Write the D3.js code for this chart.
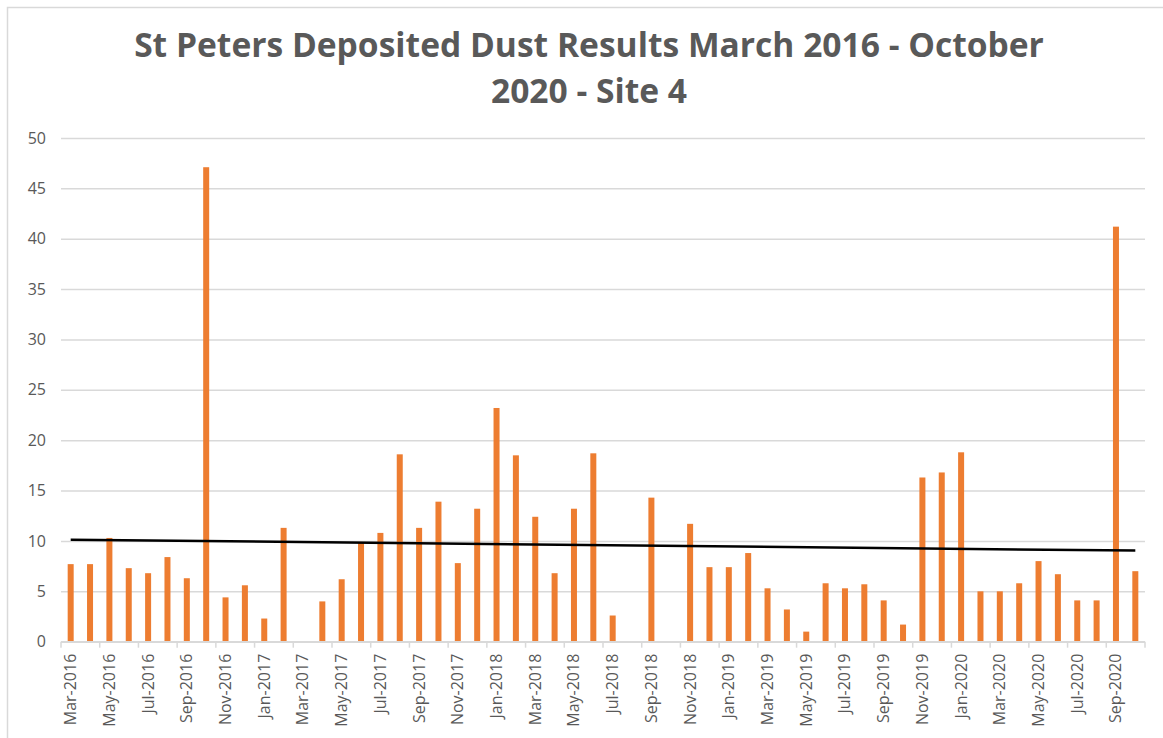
<!DOCTYPE html>
<html>
<head>
<meta charset="utf-8">
<script src="https://cdn.jsdelivr.net/npm/d3@7"></script>
<style>
  body { margin: 0; background: #fff; }
  svg { display: block; }
</style>
</head>
<body>
<svg id="chart" width="1163" height="738"></svg>
<script>
'use strict'

const titleLines = ['St Peters Deposited Dust Results March 2016 - October', '2020 - Site 4']

const months = [
  'Mar-2016','Apr-2016','May-2016','Jun-2016','Jul-2016','Aug-2016','Sep-2016','Oct-2016','Nov-2016','Dec-2016',
  'Jan-2017','Feb-2017','Mar-2017','Apr-2017','May-2017','Jun-2017','Jul-2017','Aug-2017','Sep-2017','Oct-2017','Nov-2017','Dec-2017',
  'Jan-2018','Feb-2018','Mar-2018','Apr-2018','May-2018','Jun-2018','Jul-2018','Aug-2018','Sep-2018','Oct-2018','Nov-2018','Dec-2018',
  'Jan-2019','Feb-2019','Mar-2019','Apr-2019','May-2019','Jun-2019','Jul-2019','Aug-2019','Sep-2019','Oct-2019','Nov-2019','Dec-2019',
  'Jan-2020','Feb-2020','Mar-2020','Apr-2020','May-2020','Jun-2020','Jul-2020','Aug-2020','Sep-2020','Oct-2020'
]

// null = no result that month
const dust = [
  7.7, 7.7, 10.3, 7.3, 6.8, 8.4, 6.3, 47.1, 4.4, 5.6,
  2.3, 11.3, null, 4.0, 6.2, 9.8, 10.8, 18.6, 11.3, 13.9, 7.8, 13.2,
  23.2, 18.5, 12.4, 6.8, 13.2, 18.7, 2.6, null, 14.3, null, 11.7, 7.4,
  7.4, 8.8, 5.3, 3.2, 1.0, 5.8, 5.3, 5.7, 4.1, 1.7, 16.3, 16.8,
  18.8, 5.0, 5.0, 5.8, 8.0, 6.7, 4.1, 4.1, 41.2, 7.0
]

const yTicks = [0, 5, 10, 15, 20, 25, 30, 35, 40, 45, 50]

const cfg = {
  left: 61,
  right: 1145,
  top: 138,
  bottom: 641.7,
  barColor: '#ED7D31',
  gridColor: '#D9D9D9',
  textColor: '#595959',
  font: '"Open Sans", sans-serif'
}

const svg = d3.select('#chart')

// chart frame
svg.append('rect')
  .attr('x', 7.5).attr('y', 7.5)
  .attr('width', 1200).attr('height', 800)
  .attr('fill', 'none')
  .attr('stroke', cfg.gridColor)
  .attr('stroke-width', 1.5)

svg.append('g').attr('class', 'title')
  .selectAll('text').data(titleLines).enter().append('text')
  .attr('x', 589)
  .attr('y', (d, i) => 57 + i * 46)
  .attr('text-anchor', 'middle')
  .attr('font-family', cfg.font)
  .attr('font-weight', 700)
  .attr('font-size', 33.6)
  .attr('fill', cfg.textColor)
  .text(d => d)

const x = d3.scaleBand()
  .domain(months)
  .range([cfg.left, cfg.right])
  .paddingInner(0.69)
  .paddingOuter(0.345)

const y = d3.scaleLinear()
  .domain([0, 50])
  .range([cfg.bottom, cfg.top])

// gridlines + y labels
const yAxis = svg.append('g')
  .attr('transform', `translate(${cfg.left},0)`)
  .call(d3.axisLeft(y).tickValues(yTicks).tickSize(-(cfg.right - cfg.left)).tickPadding(15))
yAxis.select('.domain').remove()
yAxis.selectAll('.tick line')
  .attr('stroke', cfg.gridColor)
  .attr('stroke-width', 1.5)
yAxis.selectAll('.tick text')
  .attr('font-family', cfg.font)
  .attr('font-size', 16)
  .attr('fill', cfg.textColor)

// bars
svg.append('g').attr('class', 'bars')
  .selectAll('rect')
  .data(months.map((m, i) => ({month: m, value: dust[i]})).filter(d => d.value != null))
  .enter().append('rect')
  .attr('x', d => x(d.month))
  .attr('width', x.bandwidth())
  .attr('y', d => y(d.value))
  .attr('height', d => y(0) - y(d.value))
  .attr('fill', cfg.barColor)

// x axis: line, ticks between every second month, rotated labels
const xg = svg.append('g').attr('class', 'x-axis')
xg.append('line')
  .attr('x1', cfg.left).attr('x2', cfg.right)
  .attr('y1', y(0)).attr('y2', y(0))
  .attr('stroke', cfg.gridColor)
  .attr('stroke-width', 1.5)

const step = x.step()
const tickIdx = d3.range(0, months.length + 1, 2)
xg.selectAll('.xtick').data(tickIdx).enter().append('line')
  .attr('class', 'xtick')
  .attr('x1', i => cfg.left + i * step)
  .attr('x2', i => cfg.left + i * step)
  .attr('y1', y(0))
  .attr('y2', y(0) + 6)
  .attr('stroke', cfg.gridColor)
  .attr('stroke-width', 1.5)

xg.selectAll('.xlabel').data(months.filter((m, i) => i % 2 === 0)).enter().append('text')
  .attr('class', 'xlabel')
  .attr('transform', d => `translate(${x(d) + x.bandwidth() / 2 + 5.5},${y(0) + 12}) rotate(-90)`)
  .attr('text-anchor', 'end')
  .attr('font-family', cfg.font)
  .attr('font-size', 16)
  .attr('fill', cfg.textColor)
  .text(d => d)

// linear trendline, least squares like Excel does it (empty months count as 0)
const pts = dust.map((v, i) => [i, v == null ? 0 : v])
const mx = d3.mean(pts, p => p[0])
const my = d3.mean(pts, p => p[1])
const slope = d3.sum(pts, p => (p[0] - mx) * (p[1] - my)) / d3.sum(pts, p => (p[0] - mx) ** 2)
const icpt = my - slope * mx
const trend = [0, months.length - 1].map(i => ({month: months[i], value: icpt + slope * i}))

svg.append('path')
  .datum(trend)
  .attr('fill', 'none')
  .attr('stroke', '#000')
  .attr('stroke-width', 2.5)
  .attr('d', d3.line().x(d => x(d.month) + x.bandwidth() / 2).y(d => y(d.value)))
</script>
</body>
</html>
